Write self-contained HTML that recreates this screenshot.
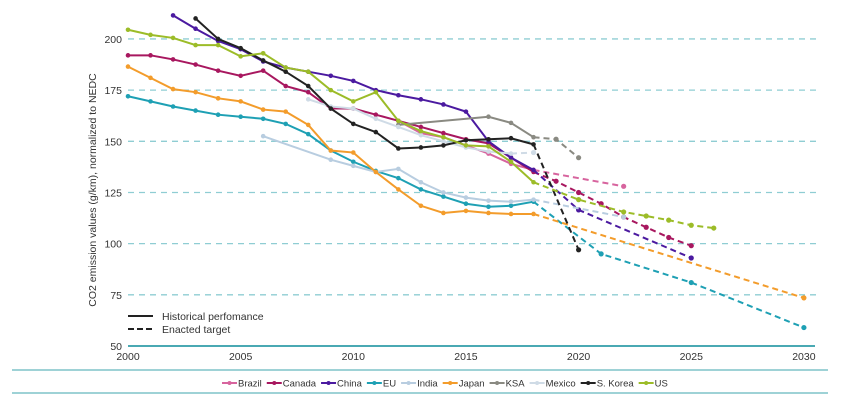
<!DOCTYPE html>
<html><head><meta charset="utf-8"><style>
html,body{margin:0;padding:0;background:#fff;}
svg{display:block;font-family:"Liberation Sans",sans-serif;}
</style></head><body>
<svg id="chart" width="844" height="418" viewBox="0 0 844 418" xmlns="http://www.w3.org/2000/svg">
<g id="grid"></g>
<g id="yt"></g>
<g id="xt"></g>
<text transform="translate(96,190) rotate(-90)" text-anchor="middle" font-size="10.5" fill="#333">CO2 emission values (g/km), normalized to NEDC</text>
<line x1="128" y1="346" x2="815" y2="346" stroke="#4aa9b3" stroke-width="2"/>
<g id="series"></g>
<g>
<line x1="128" y1="316" x2="153" y2="316" stroke="#222" stroke-width="2"/>
<text x="162" y="320" font-size="10.5" fill="#333">Historical perfomance</text>
<line x1="128" y1="329" x2="153" y2="329" stroke="#222" stroke-width="2" stroke-dasharray="6,3"/>
<text x="162" y="333" font-size="10.5" fill="#333">Enacted target</text>
</g>
<line x1="12" y1="370" x2="828" y2="370" stroke="#7fc3c8" stroke-width="1.5"/>
<line x1="12" y1="393" x2="828" y2="393" stroke="#7fc3c8" stroke-width="1.5"/>
<g id="legend"></g>
</svg>
<script>
const names=["Brazil","Canada","China","EU","India","Japan","KSA","Mexico","S. Korea","US"];
const colors=["#d7649e","#a8175f","#4b1aa0","#1ea0b4","#b8cde0","#f39c2b","#8a8a82","#cfdbe6","#222222","#9cbc28"];
const histYears=[
[2012,2013,2014,2015,2016,2017,2018],
[2000,2001,2002,2003,2004,2005,2006,2007,2008,2009,2010,2011,2012,2013,2014,2015,2016,2017,2018],
[2002,2003,2004,2005,2006,2007,2008,2009,2010,2011,2012,2013,2014,2015,2016,2017,2018],
[2000,2001,2002,2003,2004,2005,2006,2007,2008,2009,2010,2011,2012,2013,2014,2015,2016,2017,2018],
[2006,2009,2010,2011,2012,2013,2014,2015,2016,2017,2018],
[2000,2001,2002,2003,2004,2005,2006,2007,2008,2009,2010,2011,2012,2013,2014,2015,2016,2017,2018],
[2012,2016,2017,2018],
[2008,2009,2010,2011,2012,2013,2014,2015,2016,2017],
[2003,2004,2005,2006,2007,2008,2009,2010,2011,2012,2013,2014,2015,2016,2017,2018],
[2000,2001,2002,2003,2004,2005,2006,2007,2008,2009,2010,2011,2012,2013,2014,2015,2016,2017,2018]];
const histVals=[
[160,154,152,148,144,139,136],
[192,192,190,187.5,184.5,182,184.5,177,174,166,166,163,160,157,154,151,149,142,135],
[211.5,205,199,195,189,186,184,182,179.5,175,172.5,170.5,168,164.5,150,142,136],
[172,169.5,167,165,163,162,161,158.5,153.5,145.5,140,135.5,132,126.5,123,119.5,118,118.5,120.5],
[152.5,141,138,135,136.5,130,125,122.5,121,120.5,121.5],
[186.5,181,175.5,174,171,169.5,165.5,164.5,158,145.5,144.5,135,126.5,118.5,115,116,115,114.5,114.5],
[158,162,159,152],
[170.5,167,166,161,157,153,150,147,145,144],
[210,200,195.5,189.5,184,177,166,158.5,154.5,146.5,147,148,150.5,151,151.5,148.5],
[204.5,202,200.5,197,197,191.5,193,186,184,175,169.5,174,160,155,152,148,147.5,140,130]];
const tgtYears=[[2018,2022],[2018,2019,2020,2021,2022,2023,2024,2025],[2018,2020,2025],[2018,2021,2025,2030],[2018,2022],[2018,2030],[2018,2019,2020],[2017,2018],[2018,2020],[2018,2020,2022,2023,2024,2025,2026]];
const tgtVals=[[136,128],[135,130.5,125,119.5,113,108,103,99],[136,116.5,93],[120.5,95,81,59],[121.5,113],[114.5,73.5],[152,151,142],[144,144.5],[148.5,97],[130,121.5,115.5,113.5,111.5,109,107.6]];
const yTicks=[50,75,100,125,150,175,200];
const xTicks=[2000,2005,2010,2015,2020,2025,2030];

const X=y=>128+(y-2000)*22.53;
const Y=v=>346-(v-50)*2.047;
const NS="http://www.w3.org/2000/svg";
function mk(t,a,p){const e=document.createElementNS(NS,t);for(const k in a)e.setAttribute(k,a[k]);p.appendChild(e);return e;}
const grid=document.getElementById('grid'),yt=document.getElementById('yt'),xt=document.getElementById('xt'),ser=document.getElementById('series'),leg=document.getElementById('legend');
yTicks.forEach(v=>{
  if(v>50){const l=mk('line',{x1:128,x2:818,y1:Y(v),y2:Y(v),stroke:'#8fcdd3','stroke-width':1.3,'stroke-dasharray':'6,5'},grid);
  
  }
  const t=mk('text',{x:122,y:Y(v)+4,'text-anchor':'end','font-size':10.5,fill:'#333'},yt);t.textContent=v;
  
  
});
xTicks.forEach(v=>{
  const t=mk('text',{x:X(v),y:360,'text-anchor':'middle','font-size':10.5,fill:'#333'},xt);t.textContent=v;
  
  
});
names.forEach((n,i)=>{
  const g=mk('g',{},ser);
  
  
  const hp=histYears[i].map((y,j)=>X(y)+','+Y(histVals[i][j])).join(' ');
  const hl=mk('polyline',{points:hp,fill:'none',stroke:colors[i],'stroke-width':2},g);
  
  
  const tp=tgtYears[i].map((y,j)=>X(y)+','+Y(tgtVals[i][j])).join(' ');
  const tl=mk('polyline',{points:tp,fill:'none',stroke:colors[i],'stroke-width':2,'stroke-dasharray':'6,4'},g);
  
  
  histYears[i].forEach((y,j)=>{const c=mk('circle',{cx:X(y),cy:Y(histVals[i][j]),r:2.3,fill:colors[i]},g);
    
    });
  tgtYears[i].slice(1).forEach((y,j)=>{const c=mk('circle',{cx:X(y),cy:Y(tgtVals[i][j+1]),r:2.6,fill:colors[i]},g);
    
    });
});
let lx=222;
names.forEach((n,i)=>{
  const g=mk('g',{},leg);
  
  
  mk('line',{x1:lx,x2:lx+15,y1:383,y2:383,stroke:colors[i],'stroke-width':2},g);
  mk('circle',{cx:lx+7.5,cy:383,r:2,fill:colors[i]},g);
  const t=mk('text',{x:lx+16,y:386.5,'font-size':9.5,fill:'#333'},g);t.textContent=n;
  lx+=16+t.getComputedTextLength()+5;
});
</script>
</body></html>
